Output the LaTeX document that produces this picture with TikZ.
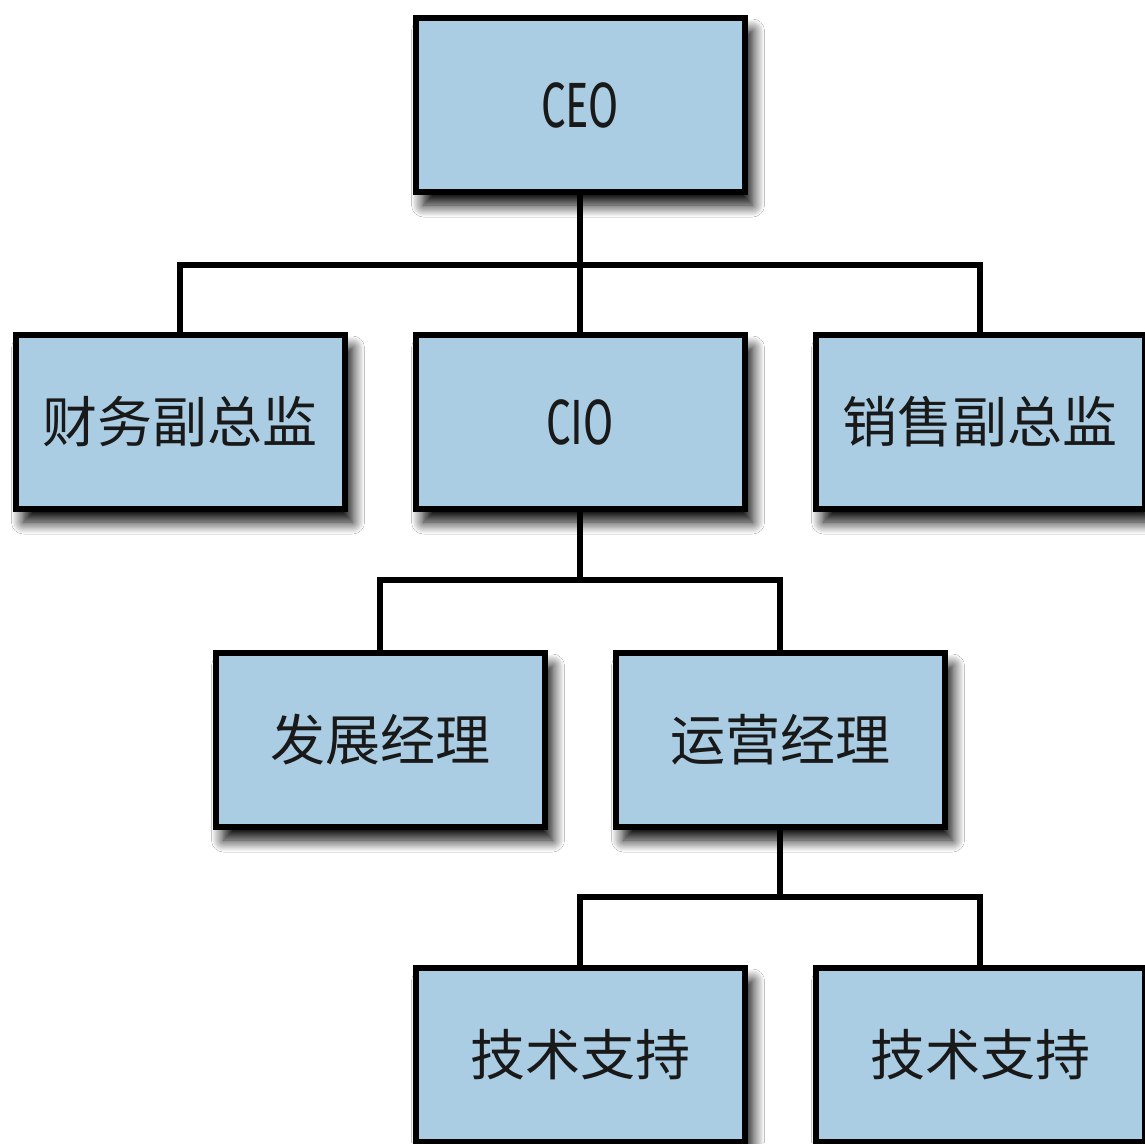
\documentclass[tikz,border=0pt]{standalone}
\usepackage{fontspec}
\newfontfamily\cjk{Noto Sans CJK SC}
\newfontfamily\cond[FakeStretch=0.68]{Fira Sans}
\usetikzlibrary{shadows.blur}
\definecolor{boxblue}{RGB}{171,205,227}
\tikzset{
  orgbox/.style={draw=black, line width=6pt, fill=boxblue, minimum width=329pt, minimum height=174pt,
    inner sep=0pt, text=black!90,
    blur shadow={shadow xshift=8pt, shadow yshift=-13pt, shadow blur radius=12pt, shadow blur steps=14, shadow opacity=100}},
  latinlbl/.style={font=\cond\fontsize{64}{70}\selectfont},
  cjklbl/.style={font=\cjk\fontsize{55}{62}\selectfont},
  link/.style={line width=6pt, line join=miter}
}
\begin{document}
\begin{tikzpicture}[x=1pt,y=-1pt]
\useasboundingbox (0,0) rectangle (1145,1143);
\fill[white] (0,0) rectangle (1145,1143);
\clip (0,0) rectangle (1145,1143);
\node[orgbox, latinlbl] (ceo) at (580,105) {CEO};
\node[orgbox, cjklbl] (fin) at (180,422) {财务副总监};
\node[orgbox, latinlbl] (cio) at (580,422) {CIO};
\node[orgbox, cjklbl] (sal) at (980,422) {销售副总监};
\node[orgbox, cjklbl] (dev) at (380,740) {发展经理};
\node[orgbox, cjklbl] (ops) at (780,740) {运营经理};
\node[orgbox, cjklbl] (ts1) at (580,1055) {技术支持};
\node[orgbox, cjklbl] (ts2) at (980,1055) {技术支持};
\coordinate (b1) at (580,265);
\coordinate (b2) at (580,580);
\coordinate (b3) at (780,897);
\draw[link] (ceo.south) -- (b1);
\draw[link] (fin.north) |- (b1) -| (sal.north);
\draw[link] (b1) -- (cio.north);
\draw[link] (cio.south) -- (b2);
\draw[link] (dev.north) |- (b2) -| (ops.north);
\draw[link] (ops.south) -- (b3);
\draw[link] (ts1.north) |- (b3) -| (ts2.north);
\end{tikzpicture}
\end{document}
